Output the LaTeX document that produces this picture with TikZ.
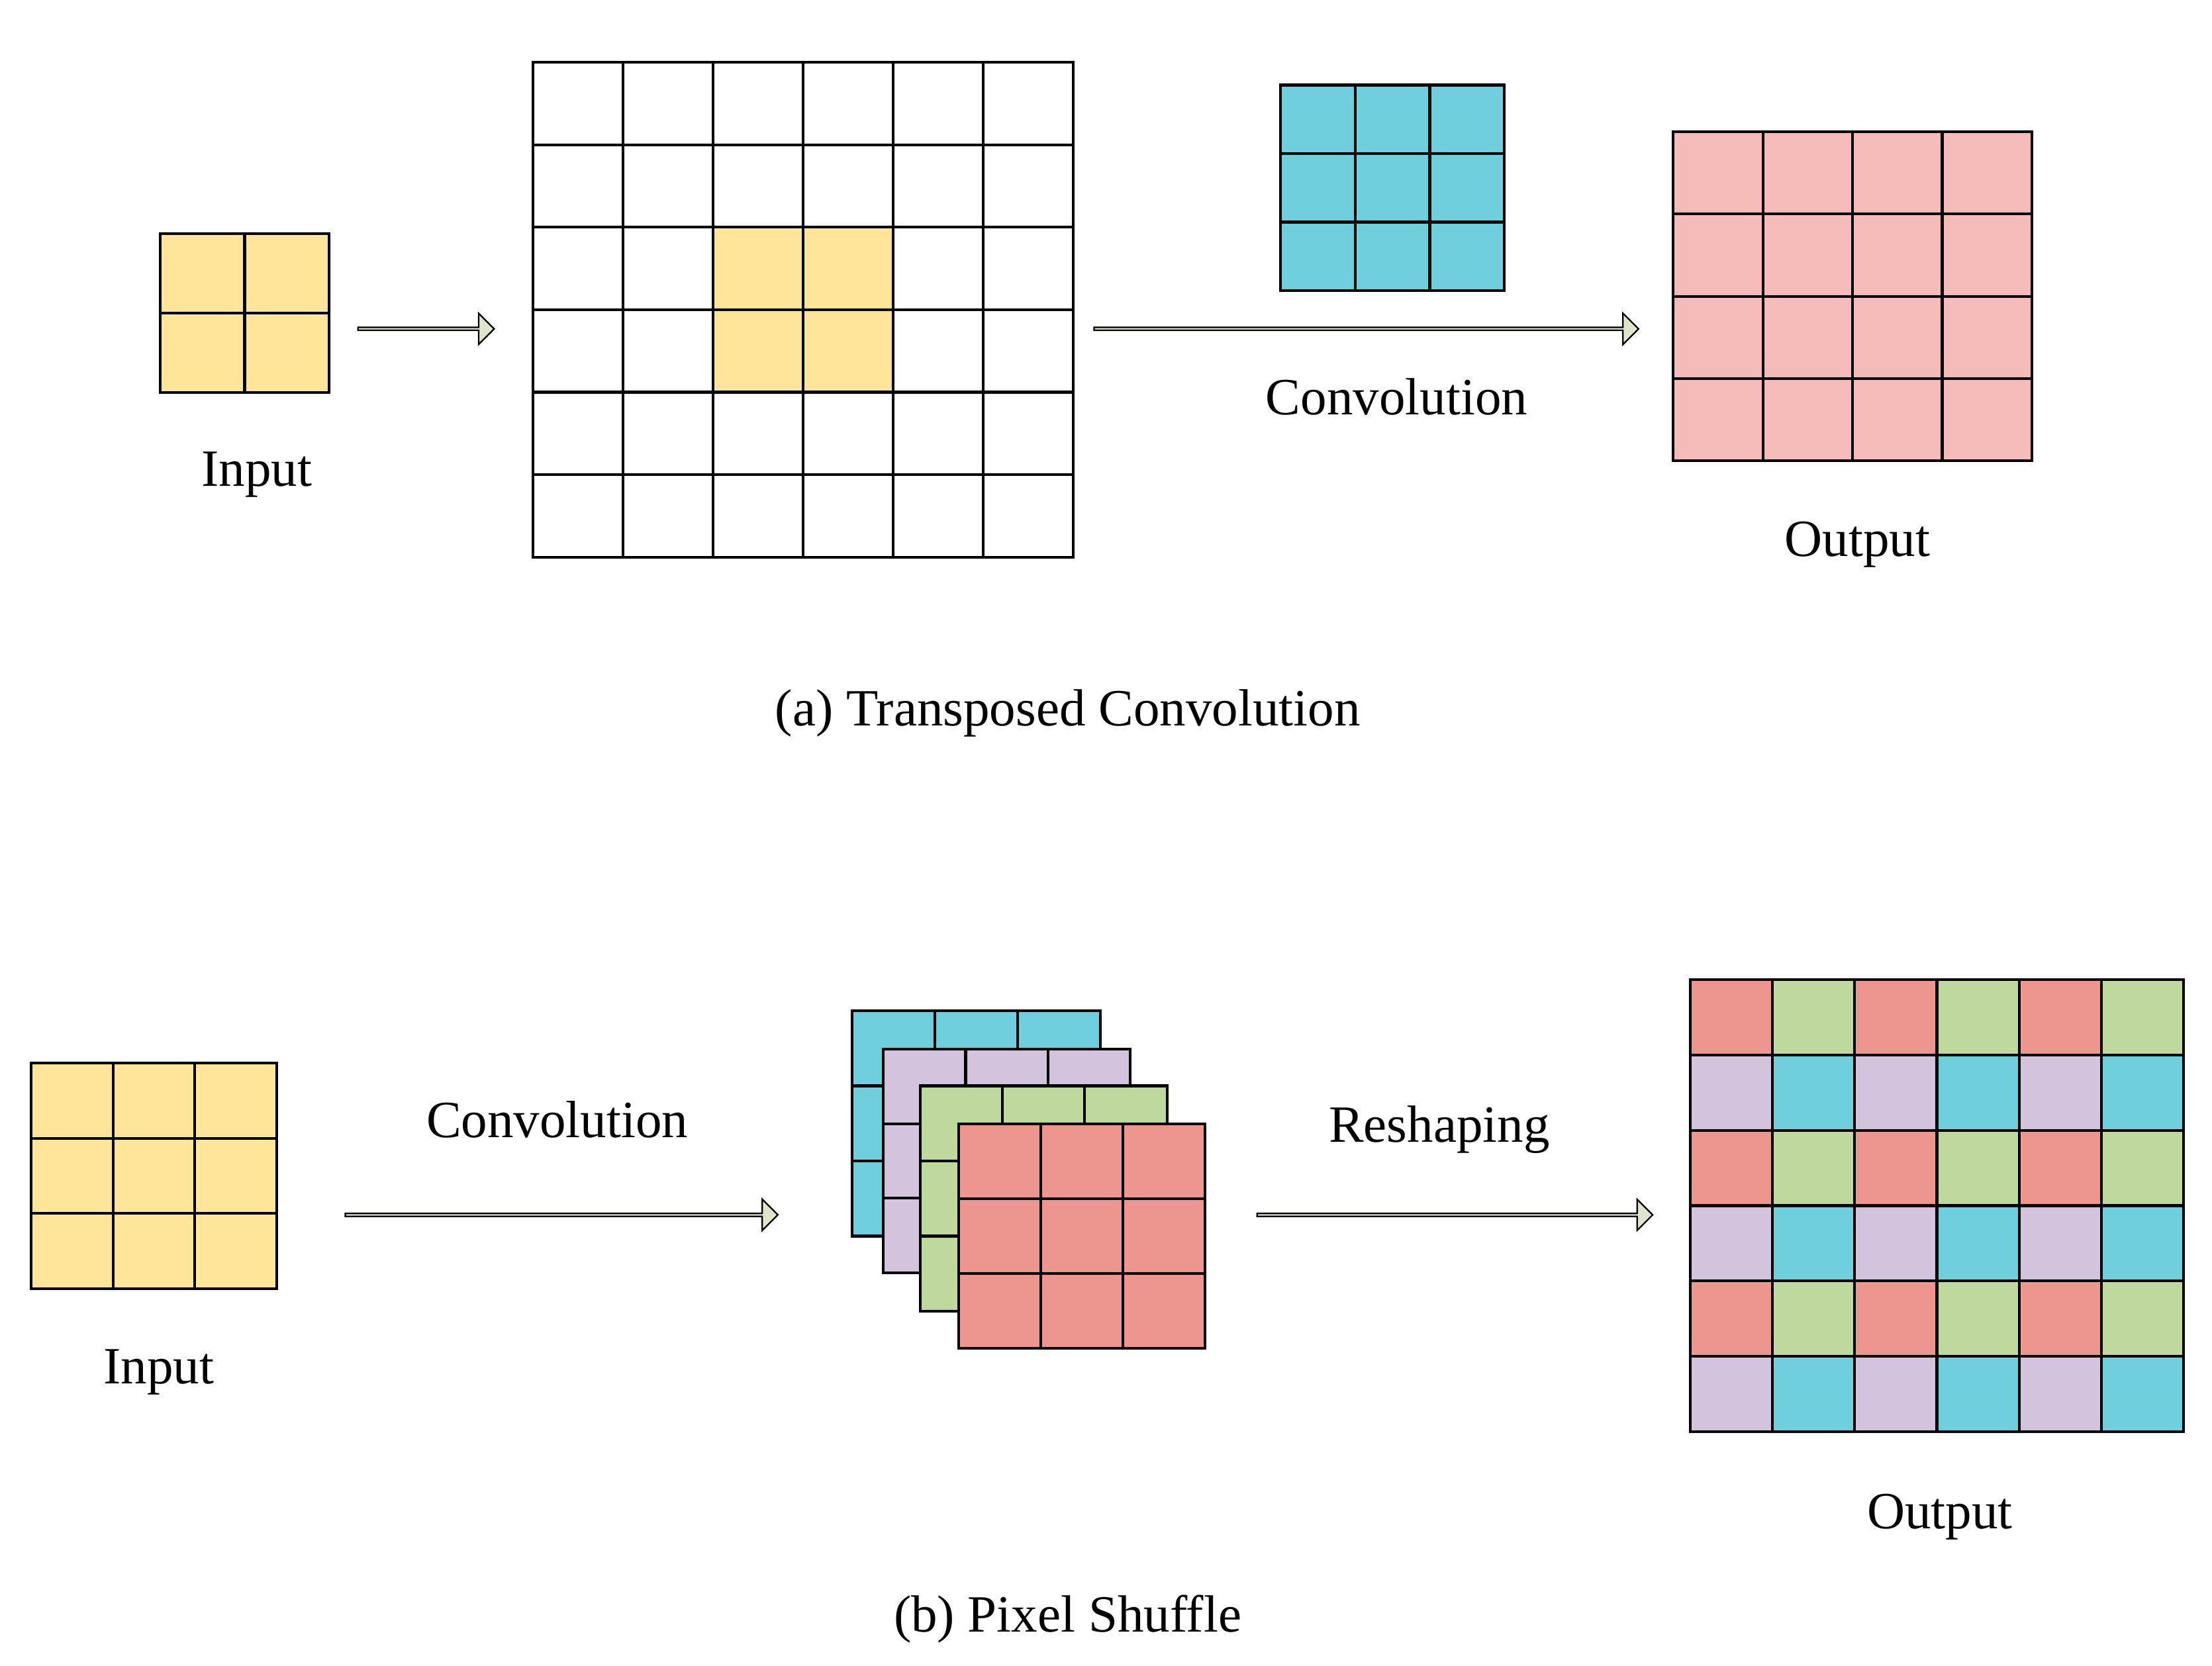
\documentclass[tikz,border=0pt]{standalone}
\usepackage{fontspec}
\setmainfont{Liberation Serif}
\usetikzlibrary{shapes.arrows}
\definecolor{cy}{HTML}{70CFDC}
\definecolor{yl}{HTML}{FFE599}
\definecolor{pk}{HTML}{F5BBB9}
\definecolor{lv}{HTML}{D3C3DD}
\definecolor{gr}{HTML}{BFD89D}
\definecolor{rd}{HTML}{ED9690}
\definecolor{ar}{HTML}{DDE5CC}
% #1 x0, #2 y0, #3 x1, #4 y1, #5 nx, #6 ny, #7 fill
\newcommand\mygrid[7]{%
  \fill[#7] (#1,#2) rectangle (#3,#4);
  \foreach \i in {1,...,#5}{\pgfmathsetmacro\xx{#1+(#3-#1)*\i/#5}\draw (\xx,#2) -- (\xx,#4);}
  \foreach \j in {1,...,#6}{\pgfmathsetmacro\yy{#2+(#4-#2)*\j/#6}\draw (#1,\yy) -- (#3,\yy);}
  \draw (#1,#2) rectangle (#3,#4);}
\begin{document}
\begin{tikzpicture}[x=0.02cm,y=-0.02cm,line width=1.1pt,
  lbl/.style={font=\fontsize{21}{25}\selectfont},
  arr/.style={single arrow,draw,fill=ar,line width=0.6pt,minimum width=22*0.02cm,single arrow head extend=0.1cm,inner sep=0pt,anchor=west}]
\useasboundingbox (0,0) rectangle (1560,1175);
% (a)
\mygrid{113}{165}{232}{277}{2}{2}{yl}
\fill[white] (376,44) rectangle (757,393);
\fill[yl] (503,160) rectangle (630,277);
\mygrid{376}{44}{757}{393}{6}{6}{white,opacity=0}
\mygrid{903}{60}{1061}{205}{3}{3}{cy}
\mygrid{1180}{93}{1433}{325}{4}{4}{pk}
\node[arr,minimum height=96*0.02cm] (a1) at (252,232) {};
\node[arr,minimum height=384*0.02cm] (a2) at (771,232) {};
\node[lbl] (t1) at (181,335) {Input};
\node[lbl] (t2) at (985,280) {Convolution};
\node[lbl] (t3) at (1310,384) {Output};
\node[lbl] (t4) at (753,503) {(a) Transposed Convolution};
% (b)
\mygrid{22}{750}{195}{909}{3}{3}{yl}
\mygrid{601}{713}{776}{872}{3}{3}{cy}
\mygrid{623}{740}{797}{898}{3}{3}{lv}
\mygrid{649}{766}{823}{925}{3}{3}{gr}
\mygrid{676}{793}{850}{951}{3}{3}{rd}
\foreach \r in {0,...,5}{\foreach \c in {0,...,5}{
  \pgfmathsetmacro\xa{1192+58*\c}\pgfmathsetmacro\ya{691+53.17*\r}
  \pgfmathparse{int(mod(\r,2)*2+mod(\c,2))}
  \ifcase\pgfmathresult\def\cc{rd}\or\def\cc{gr}\or\def\cc{lv}\else\def\cc{cy}\fi
  \fill[\cc] (\xa,\ya) rectangle ++(58,53.17);}}
\mygrid{1192}{691}{1540}{1010}{6}{6}{white,opacity=0}
\node[arr,minimum height=305*0.02cm] (b1) at (243,857) {};
\node[arr,minimum height=279*0.02cm] (b2) at (886,857) {};
\node[lbl] (s1) at (112,968) {Input};
\node[lbl] (s2) at (393,790) {Convolution};
\node[lbl] (s3) at (1015,797) {Reshaping};
\node[lbl] (s4) at (1368,1070) {Output};
\node[lbl] (s5) at (753,1142) {(b) Pixel Shuffle};
\end{tikzpicture}
\end{document}
